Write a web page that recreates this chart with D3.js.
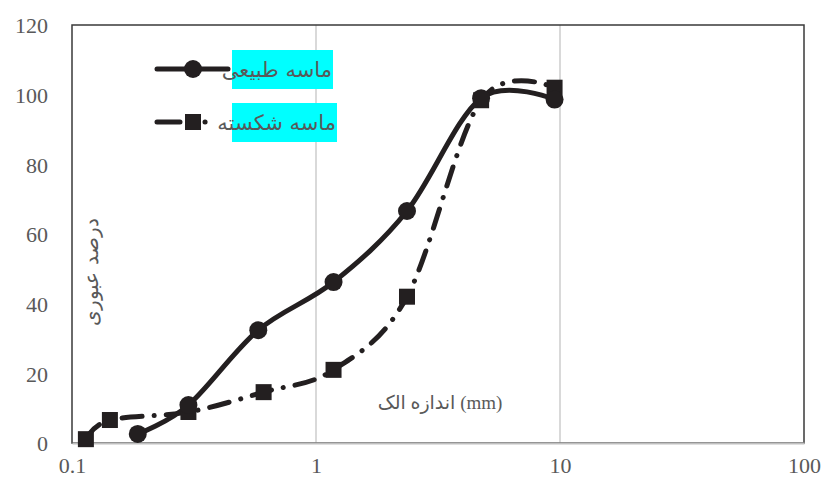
<!DOCTYPE html>
<html>
<head>
<meta charset="utf-8">
<script src="https://cdn.jsdelivr.net/npm/d3@7"></script>
<style>
  body { margin: 0; background: #fff; }
  svg { display: block; }
</style>
</head>
<body>
<svg id="chart"></svg>
<script>
// sieve sizes (mm) and percent passing
const sieveNatural = [0.186, 0.3, 0.58, 1.18, 2.36, 4.75, 9.5];
const passNatural = [2.6, 10.9, 32.4, 46.2, 66.6, 99, 98.6];
const sieveCrushed = [0.114, 0.143, 0.3, 0.61, 1.18, 2.36, 4.75, 9.5];
const passCrushed = [1.1, 6.6, 8.9, 14.6, 21, 42, 98.4, 102];

const xTicks = [0.1, 1, 10, 100];
const yTicks = [0, 20, 40, 60, 80, 100, 120];
const legendNames = ["ماسه طبیعی", "ماسه شکسته"];
const xTitle = "اندازه الک (mm)";
const yTitle = "درصد عبوری";

const width = 825, height = 485;
const margin = {top: 25, right: 21, bottom: 42, left: 72};
const ink = "#231f20";
const grey = "#595959";
const dashDot = "20 12 0.1 12";

const svg = d3.select("#chart").attr("width", width).attr("height", height);

const x = d3.scaleLog().domain([0.1, 100]).range([margin.left, width - margin.right]);
const y = d3.scaleLinear().domain([0, 120]).range([height - margin.bottom, margin.top]);

// vertical gridlines
svg.append("g")
    .selectAll("line")
    .data([1, 10])
    .join("line")
    .attr("x1", d => x(d)).attr("x2", d => x(d))
    .attr("y1", y(120)).attr("y2", y(0))
    .attr("stroke", "#d9d9d9")
    .attr("stroke-width", 2);

// frame
svg.append("rect")
    .attr("x", x(0.1)).attr("y", y(120))
    .attr("width", x(100) - x(0.1)).attr("height", y(0) - y(120))
    .attr("fill", "none")
    .attr("stroke", "#3a3a3a")
    .attr("stroke-width", 1.5);

const xAxis = svg.append("g")
    .attr("transform", `translate(0, ${y(0)})`)
    .call(d3.axisBottom(x).tickValues(xTicks).tickFormat(d3.format("")).tickSize(0).tickPadding(14));
xAxis.select(".domain").attr("stroke", "#bfbfbf").attr("stroke-width", 2);

const yAxis = svg.append("g")
    .attr("transform", `translate(${margin.left}, 0)`)
    .call(d3.axisLeft(y).tickValues(yTicks).tickSize(0).tickPadding(24));
yAxis.select(".domain").remove();

svg.selectAll(".tick text")
    .attr("font-family", "Liberation Serif, serif")
    .attr("font-size", 22)
    .attr("fill", grey);
yAxis.selectAll(".tick text").attr("dy", "0.36em");

// axis titles
svg.append("text")
    .attr("x", 440).attr("y", 409)
    .attr("text-anchor", "middle")
    .attr("font-family", "Liberation Serif, DejaVu Sans, serif")
    .attr("font-size", 19)
    .attr("fill", grey)
    .text(xTitle);

svg.append("text")
    .attr("transform", `translate(98, 272) rotate(-90)`)
    .attr("text-anchor", "middle")
    .attr("font-family", "DejaVu Sans, sans-serif")
    .attr("font-size", 20)
    .attr("font-weight", 300)
    .attr("fill", grey)
    .text(yTitle);

const line = d3.line()
    .x(d => x(d[0]))
    .y(d => y(d[1]))
    .curve(d3.curveCardinal.tension(0));

const natural = d3.zip(sieveNatural, passNatural);
const crushed = d3.zip(sieveCrushed, passCrushed);

svg.append("path")
    .datum(crushed)
    .attr("d", line)
    .attr("fill", "none")
    .attr("stroke", ink)
    .attr("stroke-width", 5)
    .attr("stroke-linecap", "round")
    .attr("stroke-dasharray", dashDot);

svg.append("path")
    .datum(natural)
    .attr("d", line)
    .attr("fill", "none")
    .attr("stroke", ink)
    .attr("stroke-width", 5)
    .attr("stroke-linecap", "round");

svg.append("g")
    .selectAll("rect")
    .data(crushed)
    .join("rect")
    .attr("x", d => x(d[0]) - 8)
    .attr("y", d => y(d[1]) - 8)
    .attr("width", 16).attr("height", 16)
    .attr("fill", ink);

svg.append("g")
    .selectAll("circle")
    .data(natural)
    .join("circle")
    .attr("cx", d => x(d[0]))
    .attr("cy", d => y(d[1]))
    .attr("r", 9)
    .attr("fill", ink);

// legend
const legend = svg.append("g");
const rows = [
    {name: legendNames[0], y: 69, dash: null, mark: "circle", boxW: 101},
    {name: legendNames[1], y: 122, dash: "23 25 0.1 100", mark: "rect", boxW: 105}
];
rows.forEach(r => {
    legend.append("line")
        .attr("x1", 157).attr("x2", r.dash ? 206 : 228)
        .attr("y1", r.y).attr("y2", r.y)
        .attr("stroke", ink)
        .attr("stroke-width", 5)
        .attr("stroke-linecap", "round")
        .attr("stroke-dasharray", r.dash);
    if (r.mark === "circle") {
        legend.append("circle").attr("cx", 193).attr("cy", r.y).attr("r", 9).attr("fill", ink);
    } else {
        legend.append("rect").attr("x", 185).attr("y", r.y - 8).attr("width", 16).attr("height", 16).attr("fill", ink);
    }
    legend.append("rect")
        .attr("x", 232).attr("y", r.y - 19)
        .attr("width", r.boxW).attr("height", 39)
        .attr("fill", "#00ffff");
    legend.append("text")
        .attr("x", 232 + r.boxW - 1).attr("y", r.y + 8)
        .attr("text-anchor", "end")
        .attr("font-family", "DejaVu Sans, sans-serif")
        .attr("font-size", 21)
        .attr("fill", grey)
        .text(r.name);
});
</script>
</body>
</html>
